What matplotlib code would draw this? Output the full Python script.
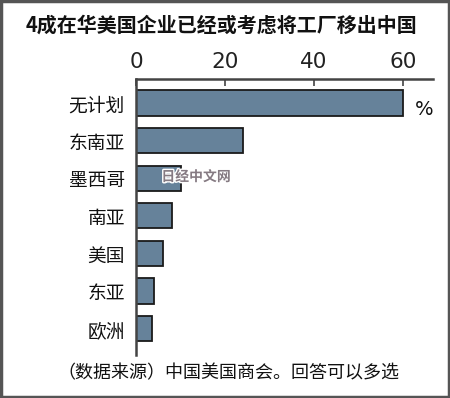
import matplotlib
matplotlib.use("Agg")
import matplotlib.pyplot as plt
from matplotlib.patches import Rectangle
import matplotlib.patheffects as pe

plt.rcParams['font.family'] = ['Noto Sans CJK SC', 'DejaVu Sans']

categories = ["无计划", "东南亚", "墨西哥", "南亚", "美国", "东亚", "欧洲"]
values = [60, 24, 10, 8, 6, 4, 3.5]
xticks = [0, 20, 40, 60]
title = "4成在华美国企业已经或考虑将工厂移出中国"
source = "（数据来源）中国美国商会。回答可以多选"

W, H = 450, 398
fig = plt.figure(figsize=(W / 100, H / 100), dpi=100)
fig.patch.set_facecolor("white")

ax = fig.add_axes([136 / W, 1 - 355 / H, (433 - 136) / W, (355 - 79) / H])
y = list(range(len(categories)))
ax.barh(y, values, height=0.67, color="#66829a", edgecolor="#1a1a1a", linewidth=1.3)
ax.set_xlim(0, 66.7)
ax.set_ylim(len(categories) - 1 + 0.70, -0.64)

ax.xaxis.tick_top()
ax.set_xticks(xticks)
ax.set_xticklabels([str(t) for t in xticks],
                   family=['DejaVu Sans'], fontsize=15.5, color="#222222")
ax.tick_params(axis="x", direction="in", length=5, width=1.2, color="#444444", pad=5)
ax.set_yticks(y)
ax.set_yticklabels(categories, fontsize=13.5, color="#111111")
ax.tick_params(axis="y", length=0, pad=8)

for s in ["right", "bottom"]:
    ax.spines[s].set_visible(False)
for s in ["top", "left"]:
    ax.spines[s].set_color("#444444")
    ax.spines[s].set_linewidth(1.8)

ax.text(62.6, 0.18, "%", fontsize=14, family=['DejaVu Sans'],
        va="center", ha="left", color="#111111", clip_on=False)

fig.text(221 / W, 1 - 25 / H, title, ha="center", va="center",
         fontsize=14.4, fontweight="bold", color="#111111")
fig.text(228 / W, 1 - 373 / H, source, ha="center", va="center",
         fontsize=13, color="#111111")

wm = fig.text(196 / W, 1 - 177 / H, "日经中文网", ha="center", va="center",
              fontsize=10, fontweight="bold", color="#857a82")
wm.set_path_effects([pe.withStroke(linewidth=2, foreground="white")])

fig.patches.append(Rectangle((0.002, 0.002), 0.996, 0.996, transform=fig.transFigure,
                             fill=False, edgecolor="#555555", linewidth=2.5))

fig.savefig("out.png", dpi=100)
